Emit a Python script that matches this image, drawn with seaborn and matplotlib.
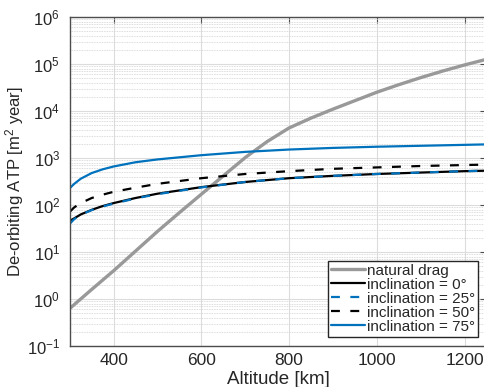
import math
import matplotlib
matplotlib.use("Agg")
import matplotlib.pyplot as plt
import seaborn as sns
from matplotlib.ticker import LogLocator, NullFormatter, FixedLocator, FuncFormatter

# natural drag curve
drag_alt = [300, 350, 400, 450, 500, 550, 600, 650, 700, 750, 800, 850, 900,
            950, 1000, 1050, 1100, 1150, 1200, 1250]
drag_atp = [0.63, 1.6, 4.0, 10.5, 27.5, 69, 170, 417, 1023, 2239, 4365, 7080,
            10960, 16600, 25100, 36300, 51300, 70800, 95500, 126000]

# de-orbit device curves per inclination
alt = [300, 310, 325, 350, 375, 400, 450, 500, 600, 700, 800, 900, 1000, 1100, 1200, 1250]
atp_inc0 = [46, 52, 63, 79, 95, 110, 141, 174, 240, 309, 372, 417, 457, 490, 525, 537]
atp_inc25 = [40, 50, 62, 78, 93, 107, 138, 170, 237, 309, 372, 417, 457, 490, 525, 537]
atp_inc50 = [72, 89, 110, 141, 166, 191, 234, 282, 372, 457, 525, 589, 631, 676, 708, 724]
atp_inc75 = [229, 282, 363, 479, 575, 661, 813, 933, 1148, 1350, 1514, 1640, 1738, 1820, 1905, 1950]

x_ticks = [400, 600, 800, 1000, 1200]

sns.set_style("white")
plt.rcParams['font.family'] = ['Liberation Sans', 'DejaVu Sans']
plt.rcParams['mathtext.fontset'] = 'custom'
plt.rcParams['mathtext.rm'] = 'Liberation Sans'
plt.rcParams['mathtext.it'] = 'Liberation Sans:italic'

blue = '#0072BD'
gray = '#999999'
dash = (0, (4, 4.7))

fig = plt.figure(figsize=(4.85, 3.87), dpi=100)
ax = fig.add_axes([0.144, 0.106, 0.859, 0.850])

sns.lineplot(x=drag_alt, y=drag_atp, ax=ax, color=gray, lw=2.4, label='natural drag')
sns.lineplot(x=alt, y=atp_inc0, ax=ax, color='black', lw=1.6, label='inclination = 0°')
sns.lineplot(x=alt, y=atp_inc25, ax=ax, color=blue, lw=1.6, linestyle=dash, label='inclination = 25°')
sns.lineplot(x=alt, y=atp_inc50, ax=ax, color='black', lw=1.6, linestyle=dash, label='inclination = 50°')
sns.lineplot(x=alt, y=atp_inc75, ax=ax, color=blue, lw=1.6, label='inclination = 75°')

ax.set_yscale('log')
ax.set_xlim(300, 1250)
ax.set_ylim(1e-1, 1e6)
ax.xaxis.set_major_locator(FixedLocator(x_ticks))
ax.yaxis.set_major_locator(LogLocator(base=10, numticks=10))
ax.yaxis.set_major_formatter(FuncFormatter(lambda v, p: r'$10^{%d}$' % round(math.log10(v))))
ax.yaxis.set_minor_locator(LogLocator(base=10, subs=range(2, 10), numticks=20))
ax.yaxis.set_minor_formatter(NullFormatter())

ax.grid(True, which='major', color='#dcdcdc', lw=0.8)
ax.grid(True, which='minor', axis='y', color='#d0d0d0', lw=0.6, linestyle=(0, (1, 1)))
ax.set_axisbelow(True)

for s in ax.spines.values():
    s.set_color('#4d4d4d')
    s.set_linewidth(1.0)
ax.tick_params(which='both', direction='in', top=True, right=True, colors='#4d4d4d',
               labelcolor='#262626')
ax.tick_params(which='major', length=4)
ax.tick_params(which='minor', length=0)
ax.tick_params(axis='x', labelsize=12.5, pad=5)
ax.tick_params(axis='y', labelsize=12, pad=7)

ax.set_xlabel('Altitude [km]', fontsize=13.5, color='#262626', labelpad=2)
ax.set_ylabel('De-orbiting ATP [m$^2$ year]', fontsize=12, color='#262626')
ax.yaxis.set_label_coords(-0.106, 0.5)

leg = ax.legend(loc='lower right', bbox_to_anchor=(0.979, 0.028), borderaxespad=0,
                fontsize=11, labelspacing=0.0, handletextpad=0.1, handlelength=2.2,
                borderpad=0.2, fancybox=False, framealpha=1, edgecolor='#262626')
leg.get_frame().set_linewidth(1.0)

fig.savefig('out.png', dpi=100)
